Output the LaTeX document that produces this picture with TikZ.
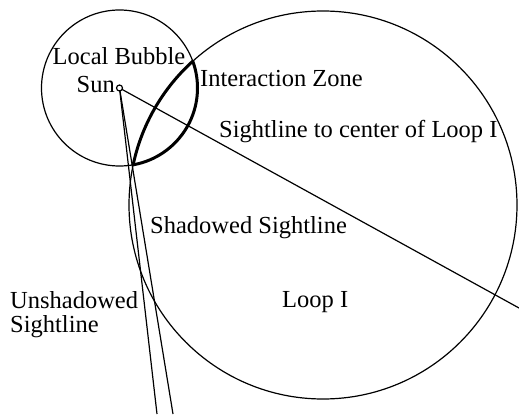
\documentclass[tikz,border=0pt]{standalone}
\usepackage{fontspec}
\setmainfont{Liberation Serif}
\newfontfamily\timesfont{Liberation Serif}
\usetikzlibrary{positioning}

\begin{document}
\begin{tikzpicture}[x=1pt, y=-1pt,
  lbl/.style={font=\timesfont\fontsize{24.5}{24}\selectfont, inner sep=0pt},
  thinline/.style={line width=1.2pt},
  zone/.style={line width=3pt}
]
\useasboundingbox (0,0) rectangle (519,417);
\coordinate (sun) at (119.5,88);
\coordinate (loopc) at (323,205);
\coordinate (centerend) at (519,308);
\coordinate (shadowend) at (173,414);
\coordinate (openend) at (157,414);
% bubble and loop
\draw[thinline] (sun) circle (78);
\draw[thinline] (loopc) circle (194);
% interaction zone
\begin{scope}
  \clip (sun) circle (78);
  \draw[zone] (loopc) circle (194);
\end{scope}
\begin{scope}
  \clip (loopc) circle (194);
  \draw[zone] (sun) circle (78);
\end{scope}
% sightlines
\draw[thinline] (sun) -- (centerend);
\draw[thinline] (sun) -- (shadowend);
\draw[thinline] (sun) -- (openend);
\draw[thinline, fill=white] (sun) circle (3);
% labels
\node[lbl, anchor=base] (bubble) at (119,65) {Local Bubble};
\node[lbl, anchor=base east] (sunlbl) at (115,93) {Sun};
\node[lbl, anchor=base west] (zonelbl) at (200,87) {Interaction Zone};
\node[lbl, anchor=base west] (centerlbl) at (219,137) {Sightline to center of Loop I};
\node[lbl, anchor=base west] (shadowlbl) at (150,233) {Shadowed Sightline};
\node[lbl, anchor=base west] (looplbl) at (282,307) {Loop I};
\node[lbl, anchor=north west, align=left] (openlbl) at (10,291.5) {Unshadowed\\Sightline};
\end{tikzpicture}
\end{document}
